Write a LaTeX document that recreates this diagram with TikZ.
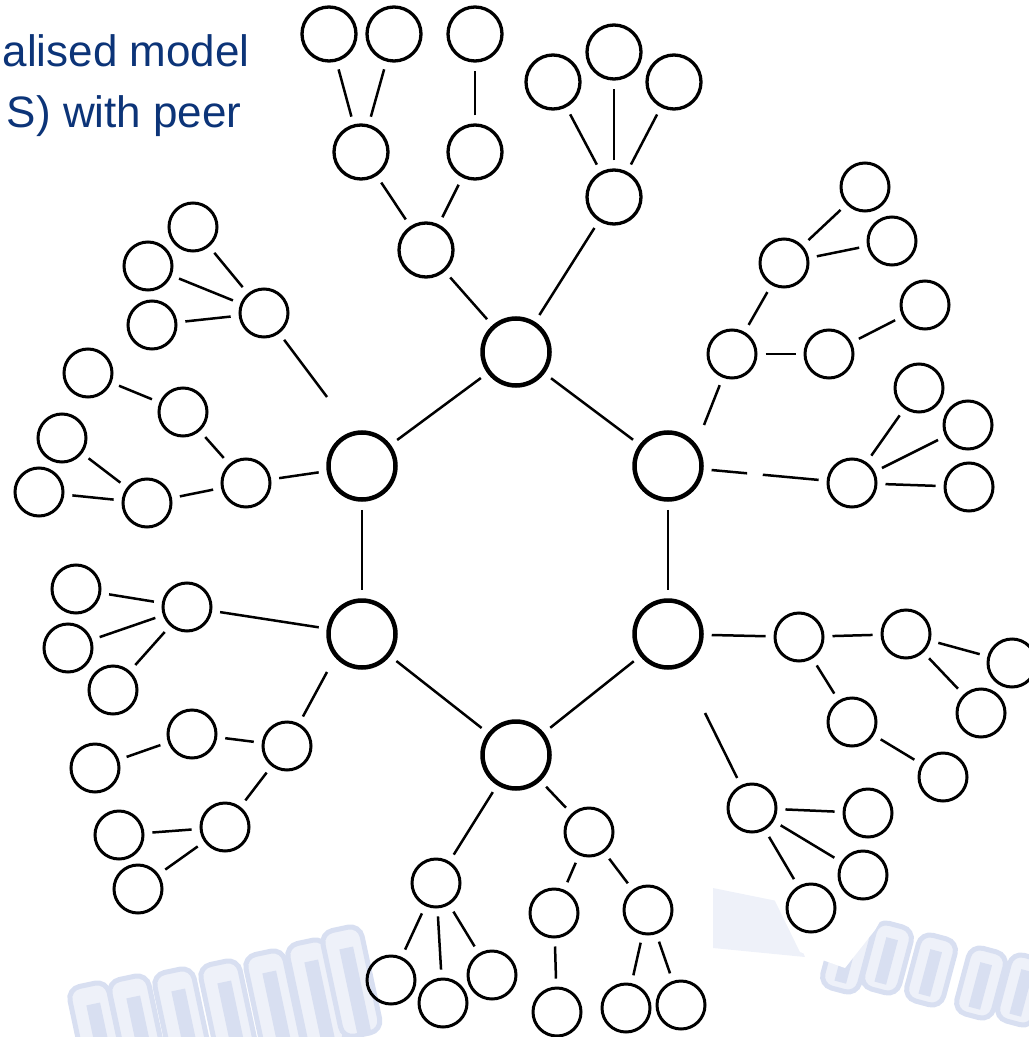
\documentclass[tikz,border=0pt]{standalone}
\usepackage{fontspec}
\setmainfont{Liberation Sans}
\usetikzlibrary{calc}
\definecolor{titleblue}{RGB}{12,52,120}
\definecolor{wmlight}{RGB}{238,241,249}
\definecolor{wmdark}{RGB}{216,223,241}
\begin{document}
\begin{tikzpicture}[x=0.5pt,y=-0.5pt,
  hub/.style={circle,draw,line width=2.25pt,minimum size=33.5pt,inner sep=0pt},
  peer/.style={circle,draw,line width=1.5pt,minimum size=24pt,inner sep=0pt},
  bigpeer/.style={peer,minimum size=27pt,line width=1.65pt},
  link/.style={line width=1.25pt,shorten >=4pt,shorten <=4pt},
  cutlink/.style={line width=1.25pt,shorten <=4pt},
  wm/.style={draw=wmdark,line width=2.5pt,rounded corners=6pt,fill=wmlight},
  wmbar/.style={fill=wmdark},
  title/.style={anchor=base east,inner sep=0pt,text=titleblue,font=\fontsize{22}{27}\selectfont}
]
\useasboundingbox (0,0) rectangle (1028,1037);

% faint watermark, bottom left
\foreach \x/\y in {95/1022,135/1015,180/1008,226/1000,271/990,313/979,348/966}{
  \draw[wm,rotate around={12:(\x,\y)}] (\x-20,\y-38) rectangle (\x+20,\y+70);
  \fill[wmbar,rotate around={12:(\x,\y)}] (\x-5,\y-18) rectangle (\x+9,\y+70);
}
% faint watermark, bottom right
\fill[wmlight] (713,888) -- (782,902) -- (805,957) -- (713,948) -- cycle;
\foreach \x/\y in {847/957,887/958,931/970,981/983,1022/990}{
  \draw[wm,rotate around={-15:(\x,\y)}] (\x-19,\y-34) rectangle (\x+19,\y+34);
  \fill[wmbar,rotate around={-15:(\x,\y)}] (\x-6,\y-20) rectangle (\x+6,\y+26);
}
\fill[white] (760,870) -- (910,870) -- (875,930) -- (845,968) -- (800,952) -- cycle;

% title fragment
\node[title] (t1) at (250,67) {alised model};
\node[title] (t2) at (242,128) {S) with peer};

% hubs
\node[hub] (T)  at (516,352) {};
\node[hub] (UL) at (362,466) {};
\node[hub] (UR) at (668,466) {};
\node[hub] (LL) at (362,634) {};
\node[hub] (LR) at (668,634) {};
\node[hub] (B)  at (516,755) {};

% top groups
\node[bigpeer] (a1) at (426,250) {};
\node[bigpeer] (a2) at (361,152) {};
\node[bigpeer] (a3) at (475,152) {};
\node[bigpeer] (a4) at (329,34) {};
\node[bigpeer] (a5) at (394,34) {};
\node[bigpeer] (a6) at (475,34) {};
\node[bigpeer] (b1) at (614,197) {};
\node[bigpeer] (b2) at (553,82) {};
\node[bigpeer] (b3) at (614,52) {};
\node[bigpeer] (b4) at (674,82) {};

% upper right group
\node[peer] (c1) at (732,354) {};
\node[peer] (c2) at (784,263) {};
\node[peer] (c3) at (865,187) {};
\node[peer] (c4) at (892,241) {};
\node[peer] (c5) at (829,354) {};
\node[peer] (c6) at (925,305) {};
\node[peer] (c7) at (852,483) {};
\node[peer] (c8) at (919,388) {};
\node[peer] (c9) at (968,425) {};
\node[peer] (c10) at (969,487) {};

% upper left group
\node[peer] (d1) at (264,313) {};
\node[peer] (d2) at (193,227) {};
\node[peer] (d3) at (148,266) {};
\node[peer] (d4) at (152,325) {};
\node[peer] (e1) at (246,483) {};
\node[peer] (e2) at (183,412) {};
\node[peer] (e3) at (88,373) {};
\node[peer] (e4) at (147,503) {};
\node[peer] (e5) at (62,438) {};
\node[peer] (e6) at (39,492) {};

% lower left group
\node[peer] (f1) at (187,607) {};
\node[peer] (f2) at (76,589) {};
\node[peer] (f3) at (68,648) {};
\node[peer] (f4) at (113,690) {};
\node[peer] (g1) at (287,746) {};
\node[peer] (g2) at (192,734) {};
\node[peer] (g3) at (95,768) {};
\node[peer] (g4) at (225,827) {};
\node[peer] (g5) at (119,835) {};
\node[peer] (g6) at (138,889) {};

% bottom group
\node[peer] (h1) at (436,883) {};
\node[peer] (h2) at (391,980) {};
\node[peer] (h3) at (443,1003) {};
\node[peer] (h4) at (492,975) {};
\node[peer] (i1) at (589,832) {};
\node[peer] (i2) at (554,913) {};
\node[peer] (i3) at (648,910) {};
\node[peer] (i4) at (557,1012) {};
\node[peer] (i5) at (626,1008) {};
\node[peer] (i6) at (681,1005) {};

% lower right group
\node[peer] (j1) at (799,637) {};
\node[peer] (j2) at (906,634) {};
\node[peer] (j3) at (1012,663) {};
\node[peer] (j4) at (981,713) {};
\node[peer] (j5) at (852,722) {};
\node[peer] (j6) at (943,777) {};
\node[peer] (k1) at (752,808) {};
\node[peer] (k2) at (868,813) {};
\node[peer] (k3) at (863,875) {};
\node[peer] (k4) at (811,908) {};

% free ends of clipped connectors
\coordinate (cutUL) at (327,397);
\coordinate (cutLL) at (327,672);
\coordinate (cutUR) at (704,425);
\coordinate (cutLR) at (705,713);
\coordinate (gapA) at ($(UR)!0.43!(c7)$);
\coordinate (gapB) at ($(UR)!0.515!(c7)$);

% hexagon
\draw[link] (T) -- (UL);
\draw[link] (T) -- (UR);
\draw[link] (UL) -- (LL);
\draw[link] (UR) -- (LR);
\draw[link] (LL) -- (B);
\draw[link] (LR) -- (B);

% top
\draw[link] (T) -- (a1);
\draw[link] (a1) -- (a2);
\draw[link] (a1) -- (a3);
\draw[link] (a2) -- (a4);
\draw[link] (a2) -- (a5);
\draw[link] (a3) -- (a6);
\draw[link] (T) -- (b1);
\draw[link] (b1) -- (b2);
\draw[link] (b1) -- (b3);
\draw[link] (b1) -- (b4);

% upper right
\draw[cutlink] (c1) -- (cutUR);
\draw[link] (c1) -- (c2);
\draw[link] (c2) -- (c3);
\draw[link] (c2) -- (c4);
\draw[link] (c1) -- (c5);
\draw[link] (c5) -- (c6);
\draw[cutlink] (UR) -- (gapA);
\draw[cutlink] (c7) -- (gapB);
\draw[link] (c7) -- (c8);
\draw[link] (c7) -- (c9);
\draw[link] (c7) -- (c10);

% upper left
\draw[cutlink] (d1) -- (cutUL);
\draw[link] (d1) -- (d2);
\draw[link] (d1) -- (d3);
\draw[link] (d1) -- (d4);
\draw[link] (UL) -- (e1);
\draw[link] (e1) -- (e2);
\draw[link] (e2) -- (e3);
\draw[link] (e1) -- (e4);
\draw[link] (e4) -- (e5);
\draw[link] (e4) -- (e6);

% lower left
\draw[link] (LL) -- (f1);
\draw[link] (f1) -- (f2);
\draw[link] (f1) -- (f3);
\draw[link] (f1) -- (f4);
\draw[cutlink] (g1) -- (cutLL);
\draw[link] (g1) -- (g2);
\draw[link] (g2) -- (g3);
\draw[link] (g1) -- (g4);
\draw[link] (g4) -- (g5);
\draw[link] (g4) -- (g6);

% bottom
\draw[link] (B) -- (h1);
\draw[link] (h1) -- (h2);
\draw[link] (h1) -- (h3);
\draw[link] (h1) -- (h4);
\draw[link] (B) -- (i1);
\draw[link] (i1) -- (i2);
\draw[link] (i1) -- (i3);
\draw[link] (i2) -- (i4);
\draw[link] (i3) -- (i5);
\draw[link] (i3) -- (i6);

% lower right
\draw[link] (LR) -- (j1);
\draw[link] (j1) -- (j2);
\draw[link] (j2) -- (j3);
\draw[link] (j2) -- (j4);
\draw[link] (j1) -- (j5);
\draw[link] (j5) -- (j6);
\draw[cutlink] (k1) -- (cutLR);
\draw[link] (k1) -- (k2);
\draw[link] (k1) -- (k3);
\draw[link] (k1) -- (k4);
\end{tikzpicture}
\end{document}
